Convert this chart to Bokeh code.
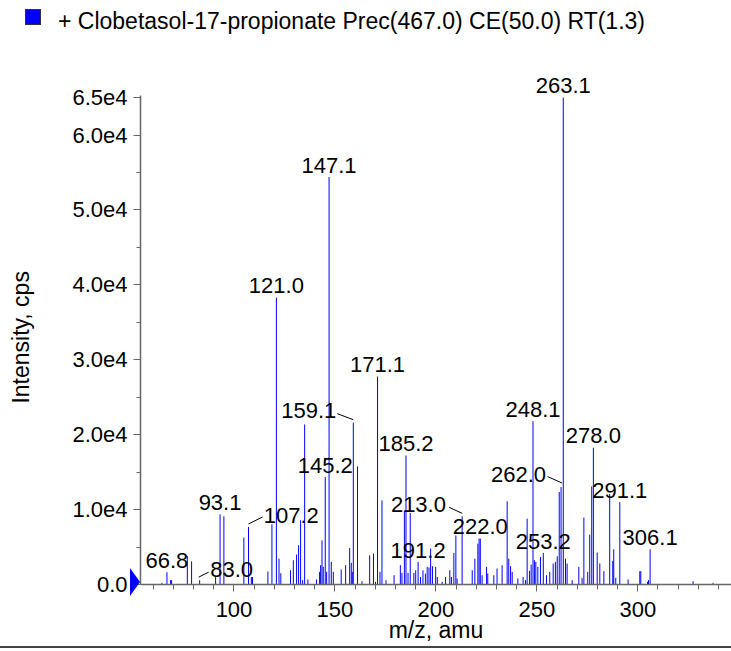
from bokeh.plotting import figure
from bokeh.models import ColumnDataSource, LabelSet, FixedTicker, Range1d, Div
from bokeh.layouts import column
from bokeh.core.properties import value
from bokeh.embed import file_html
from bokeh.resources import INLINE

# ---------------- data ----------------
mz = [64.3, 66.8, 68.6, 69.1, 76.9, 79.0, 83.0, 90.9, 93.1, 95.0,
      104.9, 107.2, 108.6, 109.2, 116.8, 118.8, 121.0, 122.3, 123.2, 128.0,
      129.4, 131.0, 132.0, 133.0, 134.0, 135.0, 136.6, 140.9, 142.4, 142.9,
      143.6, 144.2, 145.2, 145.9, 147.1, 148.2, 149.2, 153.1, 155.3, 157.3,
      158.1, 158.6, 159.1, 161.2, 163.4, 167.2, 169.1, 170.1, 171.1, 172.3,
      173.3, 175.3, 179.3, 182.4, 183.2, 184.4, 185.2, 186.2, 187.3, 189.1,
      190.0, 191.2, 192.4, 193.6, 194.8, 195.7, 196.6, 197.4, 198.3, 199.9,
      200.7, 203.1, 204.8, 206.9, 207.7, 208.9, 209.9, 210.5, 213.0, 218.0,
      219.3, 220.8, 221.4, 222.0, 222.9, 225.1, 225.7, 228.7, 230.3, 232.8,
      235.3, 236.1, 237.0, 237.8, 240.6, 243.2, 244.4, 245.2, 246.4, 247.2,
      248.1, 248.8, 249.5, 250.5, 251.8, 253.2, 254.8, 256.4, 258.1, 259.2,
      260.1, 261.1, 262.0, 263.1, 264.2, 265.0, 267.5, 270.8, 272.4, 273.3,
      275.2, 276.2, 277.2, 278.0, 279.9, 281.2, 283.2, 286.1, 287.6, 288.1,
      289.1, 291.1, 295.2, 301.0, 301.5, 304.8, 305.3, 306.1, 327.4, 337.3]
intensity = [220, 1640, 580, 580, 3800, 3100, 580, 1000, 9370, 9100,
             6260, 7680, 1000, 1000, 1730, 8040, 38300, 3460, 1500, 1900,
             3240, 4000, 5240, 8570, 580, 21370, 670, 670, 1690, 2580,
             5900, 2350, 14340, 1690, 54400, 3020, 1690, 2000, 2580, 4880,
             2890, 1690, 21600, 15760, 440, 3900, 4130, 350, 27750, 1690,
             11230, 580, 1240, 2580, 1550, 9900, 17230, 1550, 9550, 1550,
             1900, 3020, 1000, 1900, 1460, 2350, 2260, 4800, 2440, 2350,
             1000, 350, 1000, 1900, 1000, 4220, 6530, 800, 9100, 1900,
             3460, 5460, 6130, 6130, 1240, 2350, 1460, 1240, 2130, 2580,
             11100, 3460, 2440, 1690, 800, 1000, 580, 8790, 1820, 2660,
             21800, 3240, 3020, 2350, 3680, 4220, 1240, 1690, 2800, 3020,
             3770, 12340, 13010, 65000, 3460, 2800, 580, 2350, 890, 8930,
             1690, 6660, 13100, 18250, 4260, 2800, 1780, 12100, 3150, 4700,
             890, 11000, 670, 1780, 1780, 350, 580, 4700, 440, 220]

label_mz = [66.8, 83.0, 93.1, 107.2, 121.0, 145.2, 147.1, 159.1, 171.1, 185.2,
            191.2, 213.0, 222.0, 248.1, 253.2, 262.0, 263.1, 278.0, 291.1, 306.1]
label_text = ["66.8", "83.0", "93.1", "107.2", "121.0", "145.2", "147.1", "159.1",
              "171.1", "185.2", "191.2", "213.0", "222.0", "248.1", "253.2",
              "262.0", "263.1", "278.0", "291.1", "306.1"]

x_ticks = [100, 150, 200, 250, 300]
x_tick_labels = ["100", "150", "200", "250", "300"]
x_minor_ticks = [60, 70, 80, 90, 110, 120, 130, 140, 160, 170, 180, 190, 210, 220,
                 230, 240, 260, 270, 280, 290, 310, 320, 330, 340]
y_ticks = [0, 10000, 20000, 30000, 40000, 50000, 60000, 65000]
y_tick_labels = ["0.0", "1.0e4", "2.0e4", "3.0e4", "4.0e4", "5.0e4", "6.0e4", "6.5e4"]
y_minor_ticks = [5000, 15000, 25000, 35000, 45000, 55000]
x_axis_min = 53.7
y_axis_max = 65300

legend_text = "+ Clobetasol-17-propionate Prec(467.0) CE(50.0) RT(1.3)"
x_title = "m/z, amu"
y_title = "Intensity, cps"

# ---------------- layout / style ----------------
W = 731
HEAD = 45                 # height of the legend strip above the figure
H = 606                   # figure height
BL, BR, BT, BB = 140, 0, 0, 67
PX_PER_X = 2.019          # pixels per m/z unit
PX_PER_Y = 1 / 133.5      # pixels per count
FONT = "Liberation Sans"
BLUE = "#0000ff"
AXIS = "#666666"
NBSP = "\u00a0"

FW = W - BL - BR
FH = H - BT - BB
X0 = x_axis_min
X1 = x_axis_min + FW / PX_PER_X
Y0 = 0
Y1 = FH / PX_PER_Y

# label placement offsets in screen pixels (dx, dy up), leader lines (px)
special = {
    "83.0": dict(off=(32, 3), lead=((-1, 3), (9, 8))),
    "107.2": dict(off=(42.7, 3.7), lead=((0, 3), (14, 10))),
    "159.1": dict(off=(-44.5, 4.4), lead=((0, 3), (-16, 9))),
    "213.0": dict(off=(-43.7, 4.3), lead=((0, 3), (-13, 9))),
    "262.0": dict(off=(-42.5, 5), lead=((1, 4), (-13.5, 10.5))),
}

p = figure(width=W, height=H, output_backend="svg", toolbar_location=None,
           x_range=Range1d(X0, X1), y_range=Range1d(Y0, Y1), title=None,
           min_border_left=BL, min_border_right=BR, min_border_top=BT,
           min_border_bottom=BB, margin=0)
p.outline_line_color = None
p.grid.visible = False
p.background_fill_color = "white"
p.border_fill_color = "white"

src = ColumnDataSource(dict(x=mz, y0=[0] * len(mz), y=intensity))
p.segment(x0="x", y0="y0", x1="x", y1="y", source=src, line_color=BLUE, line_width=1)

lookup = dict(zip(mz, intensity))
lab_y = [lookup[m] for m in label_mz]
xo = [special[t]["off"][0] if t in special else 0 for t in label_text]
yo = [special[t]["off"][1] if t in special else 4.3 for t in label_text]
lsrc = ColumnDataSource(dict(x=label_mz, y=lab_y, t=label_text, xo=xo, yo=yo))
p.add_layout(LabelSet(x="x", y="y", text="t", source=lsrc, x_offset="xo", y_offset="yo",
                      text_align="center", text_baseline="alphabetic",
                      text_font=value(FONT), text_font_size=value("22px"),
                      text_color="black"))

# leader lines
ux = 1 / PX_PER_X
uy = 1 / PX_PER_Y
lx0, ly0, lx1, ly1 = [], [], [], []
for m, t, yv in zip(label_mz, label_text, lab_y):
    if t in special:
        (a, b), (c, d) = special[t]["lead"]
        lx0.append(m + a * ux); ly0.append(yv + b * uy)
        lx1.append(m + c * ux); ly1.append(yv + d * uy)
p.segment(x0=lx0, y0=ly0, x1=lx1, y1=ly1, line_color="black", line_width=1)

# axes
for ax in (p.xaxis[0], p.yaxis[0]):
    ax.axis_line_color = AXIS
    ax.axis_line_width = 1.5
    ax.major_tick_line_color = AXIS
    ax.minor_tick_line_color = AXIS
    ax.major_tick_in = 0
    ax.minor_tick_in = 0
    ax.major_label_text_font = FONT
    ax.major_label_text_font_size = "22px"
    ax.major_label_text_color = "black"
    ax.axis_label_text_font = FONT
    ax.axis_label_text_font_size = "23px"
    ax.axis_label_text_font_style = "normal"
    ax.axis_label_text_color = "black"

p.xaxis.ticker = FixedTicker(ticks=x_ticks, minor_ticks=x_minor_ticks)
p.xaxis.major_label_overrides = dict(zip(x_ticks, x_tick_labels))
p.xaxis.major_tick_out = 7
p.xaxis.minor_tick_out = 5
p.xaxis.major_label_standoff = 10
p.xaxis.axis_label = x_title
p.xaxis.axis_label_standoff = -3

p.yaxis.ticker = FixedTicker(ticks=y_ticks, minor_ticks=y_minor_ticks)
p.yaxis.major_label_overrides = dict(zip(y_ticks, y_tick_labels))
p.yaxis.major_tick_out = 7
p.yaxis.minor_tick_out = 4
p.yaxis.major_label_standoff = 6
# trailing no-break spaces centre the title on the bounded axis line
p.yaxis.axis_label = y_title + NBSP * 7
p.yaxis.axis_label_standoff = 35
p.yaxis.bounds = (0, y_axis_max)

# legend strip (blue square + text) above the figure
head_html = (
    '<div style="position:relative;width:%dpx;height:%dpx;">'
    '<span style="position:absolute;left:25px;top:9px;width:16px;height:16px;'
    'background:%s;border:1px solid #333333;"></span>'
    '<span style="position:absolute;left:58px;top:8px;font-family:\'%s\';'
    'font-size:23px;color:black;white-space:nowrap;line-height:normal;">%s</span>'
    '</div>' % (W, HEAD, BLUE, FONT, legend_text))
head = Div(text=head_html, width=W, height=HEAD, margin=0)

# dark rule at the bottom (edge of the next panel) + baseline marker at y = 0
rule_html = (
    '<div style="position:relative;width:%dpx;height:2px;">'
    '<svg style="position:absolute;left:130px;top:-88px;overflow:visible" '
    'width="10" height="28"><polygon points="0,0 0,28 10,14" fill="%s"/></svg>'
    '</div>' % (W, BLUE))
rule = Div(text=rule_html, width=W, height=2, margin=(-5, 0, 0, 0),
           styles={"background-color": "#444444", "overflow": "visible"})

layout = column(head, p, rule, spacing=0, margin=0)
open("out.html", "w").write(file_html(layout, INLINE))
